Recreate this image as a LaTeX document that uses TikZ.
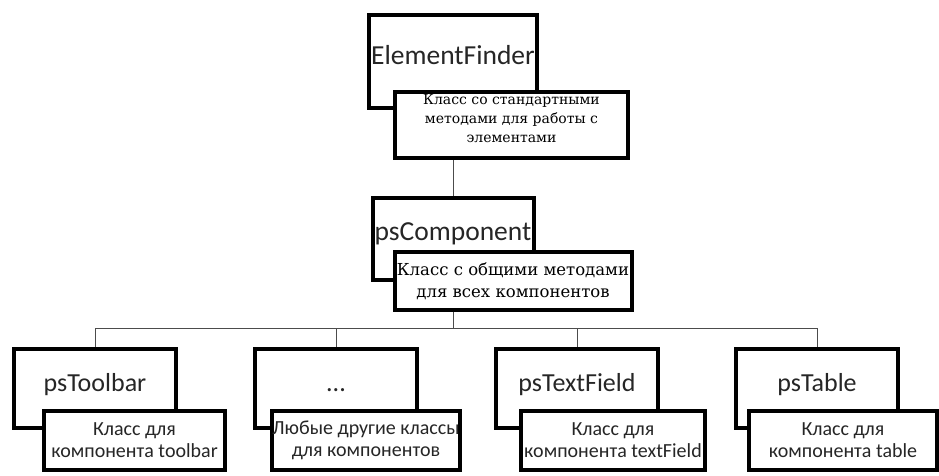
\documentclass[tikz,border=0pt]{standalone}
\usepackage{fontspec}
\setmainfont{Carlito}
\newfontfamily\slabfont{DejaVu Serif}
\usetikzlibrary{positioning}

\begin{document}
\begin{tikzpicture}[%
    x=1pt, y=-1pt,
    link/.style={draw=black!70, line width=1pt},
    titlebox/.style={draw, line width=4pt, fill=white, anchor=north,
      inner sep=0pt, text=black!85},
    bigtitle/.style={titlebox, font=\fontsize{27.5}{30}\selectfont},
    smalltitle/.style={titlebox, minimum width=162pt, text height=42pt,
      text depth=37pt, font=\fontsize{26}{28}\selectfont},
    descbox/.style={draw, line width=4pt, fill=white, align=center, inner sep=0pt},
    slabdesc/.style={descbox, font=\slabfont\fontsize{14}{19}\selectfont},
    smalldesc/.style={descbox, minimum height=59pt, text=black!85,
      font=\fontsize{20}{22}\selectfont},
  ]
    \useasboundingbox (0,0) rectangle (939,475);

    \node[bigtitle, minimum width=168pt, text height=49pt, text depth=44pt] (ef) at (453,13) {ElementFinder};
    \node[slabdesc, minimum width=233pt, minimum height=66pt, below right=-20pt and 26pt of ef.south west] (efd)
      {Класс со стандартными\\методами для работы с\\элементами\\[-6pt]};

    \node[bigtitle, minimum width=161pt, text height=42pt, text depth=40pt] (psc) at (453,196) {psComponent};
    \node[slabdesc, minimum width=237pt, minimum height=58pt, font=\slabfont\fontsize{16.5}{22}\selectfont,
      below right=-32pt and 22pt of psc.south west] (pscd)
      {Класс с общими методами\\для всех компонентов};

    \node[smalltitle] (tb)  at (95,347)  {psToolbar};
    \node[smalltitle] (any) at (336,347) {...};
    \node[smalltitle] (tf)  at (577,347) {psTextField};
    \node[smalltitle] (tbl) at (817,347) {psTable};

    \node[smalldesc, minimum width=181pt, below right=-21pt and 30pt of tb.south west] (tbd)
      {Класс для\\компонента toolbar};
    \node[smalldesc, minimum width=188pt, below right=-21pt and 17pt of any.south west] (anyd)
      {Любые другие классы\\для компонентов};
    \node[smalldesc, minimum width=184pt, below right=-21pt and 25pt of tf.south west] (tfd)
      {Класс для\\компонента textField};
    \node[smalldesc, minimum width=188pt, below right=-21pt and 13pt of tbl.south west] (tbld)
      {Класс для\\компонента table};

    \coordinate (bus) at (453,328);
    \draw[link] (ef.south |- efd.south) -- (psc.north);
    \draw[link] (psc.south |- pscd.south) -- (bus);
    \draw[link] (bus) -| (tb.north);
    \draw[link] (bus) -| (any.north);
    \draw[link] (bus) -| (tf.north);
    \draw[link] (bus) -| (tbl.north);
\end{tikzpicture}
\end{document}
